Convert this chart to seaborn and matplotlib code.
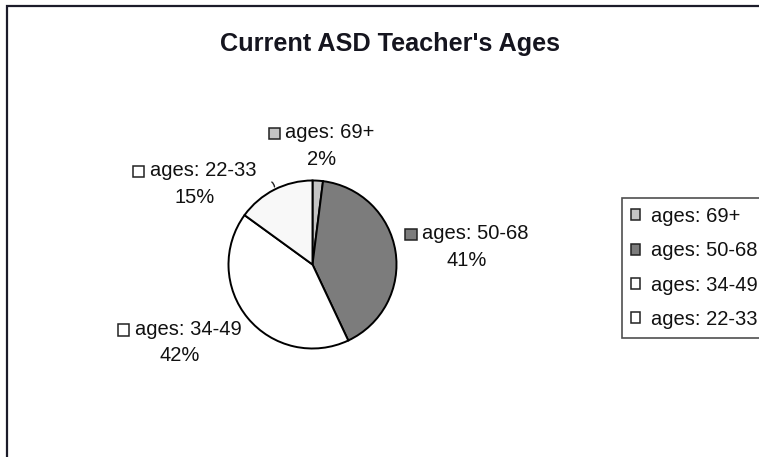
import matplotlib
matplotlib.use("Agg")
import matplotlib.pyplot as plt
import seaborn as sns
import numpy as np
from matplotlib.patches import Rectangle, Patch
from matplotlib.offsetbox import (AnnotationBbox, DrawingArea, TextArea,
                                  HPacker, VPacker)

# ---- data ----
categories = ["ages: 69+", "ages: 50-68", "ages: 34-49", "ages: 22-33"]
percentages = [2, 41, 42, 15]
title = "Current ASD Teacher's Ages"

# ---- styles / layout ----
slice_colors = ["#c4c4c4", "#7c7c7c", "#ffffff", "#f8f8f8"]
key_colors = ["#c4c4c4", "#7c7c7c", "#ffffff", "#ffffff"]
# label block centres, in pie-radius units (layout only)
label_pos = [(0.11, 1.41), (1.84, 0.21), (-1.58, -0.93), (-1.40, 0.96)]
leader = [False, False, False, True]

sns.set_theme(style="white")
plt.rcParams["font.family"] = ["Liberation Sans", "DejaVu Sans"]

W, H, DPI = 759, 457, 100
fig = plt.figure(figsize=(W / DPI, H / DPI), dpi=DPI)
fig.patch.set_facecolor("white")

# outer chart frame (extends beyond right / bottom edges)
fig.patches.append(Rectangle((7 / W, -0.2), 2.0, 1 - 6 / H + 0.2,
                             transform=fig.transFigure, fill=False,
                             edgecolor="#1c1c2a", linewidth=1.6))

# pie axes: radius 84 px, centre (312.5, 264.5) px
R = 84.0
cx, cy = 312.5, 264.5
L = 3.0
side = 2 * L * R
ax = fig.add_axes([(cx - L * R) / W, (H - cy - L * R) / H, side / W, side / H])
wedges, _ = ax.pie(percentages, colors=slice_colors, startangle=90,
                   counterclock=False, radius=1.0,
                   wedgeprops=dict(edgecolor="black", linewidth=1.4))
ax.set_xlim(-L, L)
ax.set_ylim(-L, L)
ax.set_aspect("equal")
ax.axis("off")

fs = 14.5
for i, (cat, pct) in enumerate(zip(categories, percentages)):
    da = DrawingArea(9, 9, 0, 0)
    da.add_artist(Rectangle((0, 0), 8, 8, facecolor=key_colors[i],
                            edgecolor="#222222", linewidth=1.1))
    t1 = TextArea(cat, textprops=dict(fontsize=fs, color="#111111"))
    t2 = TextArea(f"{pct}%", textprops=dict(fontsize=fs, color="#111111"))
    row = HPacker(children=[da, t1], align="center", pad=0, sep=3)
    block = VPacker(children=[row, t2], align="center", pad=0, sep=5.5)
    ab = AnnotationBbox(block, label_pos[i], xycoords="data", frameon=False,
                        box_alignment=(0.5, 0.5), annotation_clip=False)
    ax.add_artist(ab)
    if leader[i]:
        w = wedges[i]
        mid = np.deg2rad((w.theta1 + w.theta2) / 2)
        p = (np.cos(mid), np.sin(mid))
        ax.annotate("", xy=p, xytext=(p[0] * 1.13, p[1] * 1.12),
                    arrowprops=dict(arrowstyle="-", color="#222222", lw=1.0,
                                    connectionstyle="arc3,rad=-0.4"),
                    annotation_clip=False)

fig.text(390 / W, 1 - 44 / H, title, fontsize=18.2, fontweight="bold",
         ha="center", va="center", color="#15151f")

handles = [Patch(facecolor=key_colors[i], edgecolor="#222222", linewidth=1.1)
           for i in range(len(categories))]
leg = fig.legend(handles, categories, loc="upper left",
                 bbox_to_anchor=(622 / W, 1 - 198 / H), fontsize=fs,
                 frameon=True, fancybox=False, borderpad=0.45,
                 labelspacing=0.76, handlelength=0.45, handleheight=0.45,
                 handletextpad=0.55, borderaxespad=0)
leg.get_frame().set_edgecolor("#222222")
leg.get_frame().set_linewidth(1.2)
for t in leg.get_texts():
    t.set_color("#111111")

fig.savefig("out.png", dpi=DPI)
